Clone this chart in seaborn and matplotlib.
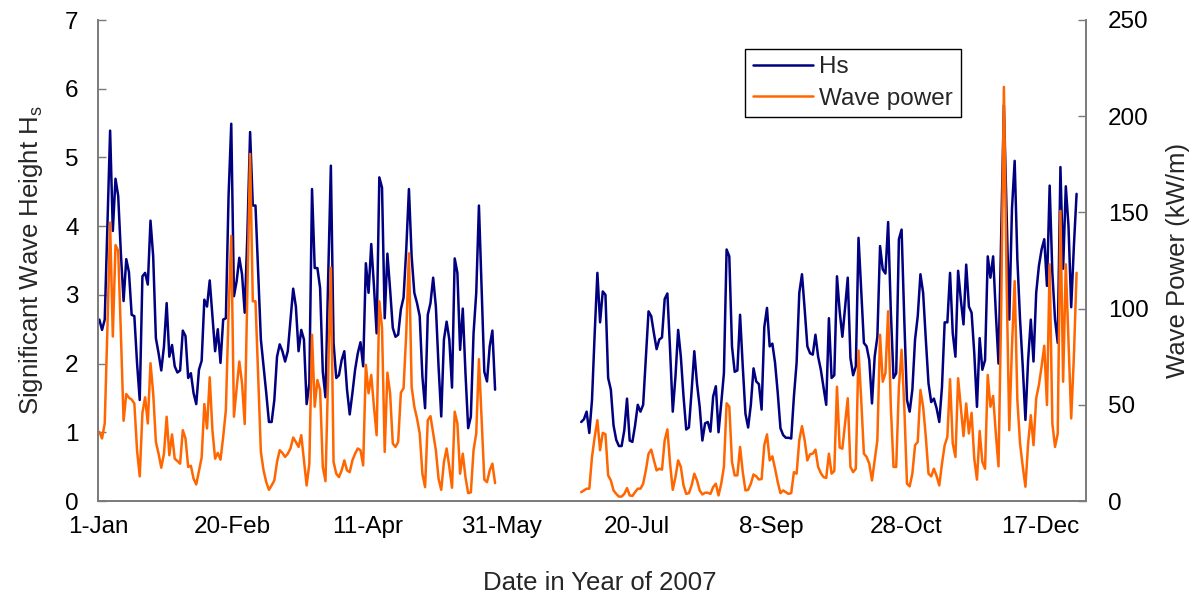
import numpy as np
import pandas as pd
import matplotlib
matplotlib.use('Agg')
import matplotlib.pyplot as plt
import seaborn as sns
from matplotlib.lines import Line2D

# Daily values. First block starts 1-Jan (day 0),
# second block starts day 179; nothing recorded in between.
start_1 = 0
hs_1 = [2.64, 2.49, 2.64, 4.0, 5.39, 3.93, 4.69, 4.44, 3.6, 2.91,
        3.52, 3.33, 2.71, 2.69, 2.01, 1.47, 3.27, 3.32, 3.15, 4.08,
        3.56, 2.37, 2.15, 1.90, 2.25, 2.88, 2.10, 2.27, 1.96, 1.87,
        1.90, 2.48, 2.40, 1.79, 1.86, 1.57, 1.41, 1.91, 2.04, 2.93,
        2.83, 3.21, 2.69, 2.18, 2.50, 2.01, 2.64, 2.66, 4.44, 5.49,
        2.98, 3.20, 3.54, 3.30, 2.74, 3.90, 5.37, 4.30, 4.30, 3.32,
        2.35, 1.96, 1.57, 1.15, 1.15, 1.47, 2.10, 2.28, 2.18, 2.03,
        2.18, 2.64, 3.09, 2.83, 2.18, 2.49, 2.35, 1.41, 1.71, 4.54,
        3.39, 3.39, 3.10, 1.88, 1.51, 3.25, 4.88, 2.30, 1.79, 1.83,
        2.05, 2.18, 1.62, 1.26, 1.57, 1.91, 2.15, 2.31, 1.96, 3.46,
        3.03, 3.74, 3.13, 2.44, 4.71, 4.56, 2.66, 3.60, 3.08, 2.52,
        2.39, 2.42, 2.79, 2.96, 3.66, 4.54, 3.56, 3.03, 2.88, 2.69,
        1.81, 1.35, 2.71, 2.88, 3.25, 2.83, 1.96, 1.23, 2.35, 2.61,
        2.35, 1.65, 3.53, 3.32, 2.20, 2.80, 1.86, 1.06, 1.23, 2.44,
        3.03, 4.30, 3.08, 1.88, 1.74, 2.25, 2.48, 1.62]
power_1 = [35.9, 32.5, 40.3, 90, 144.7, 85.5, 133, 130, 87, 41.7,
           55.6, 53.7, 52.7, 50.7, 26.4, 12.8, 45.8, 53.9, 40.3, 71.6,
           56, 30.7, 24.6, 17.3, 24.6, 43.8, 23.8, 34.6, 22, 20.8,
           19.4, 36.8, 32.5, 17.7, 18.3, 11.6, 8.6, 15.6, 22.6, 50.4,
           37.7, 64.3, 36.8, 22, 25, 21.5, 33.3, 47.3, 97.8, 137.8,
           43.8, 58.6, 72.5, 61.2, 40, 111.6, 180.4, 103.8, 103.8, 64.6,
           25.5, 15.9, 9.8, 5.8, 8.1, 10.7, 20.3, 26.4, 25, 22.9,
           24.6, 27.3, 33, 30.7, 28.1, 34.2, 21.1, 8.1, 19.4, 86.4,
           49, 62.9, 57.7, 17.7, 10.3, 66.4, 121.3, 20.3, 14.2, 12.4,
           15.9, 21.1, 15.9, 15, 21.1, 24.6, 27.3, 26.4, 18.5, 70.8,
           56, 65.5, 49, 34.2, 103.8, 90, 25.5, 66.7, 56, 29.9,
           28.1, 30.7, 56.3, 58.6, 87.3, 128.7, 59.4, 49, 42.9, 35.1,
           14.2, 7.2, 42, 44.1, 35.1, 26.4, 11.6, 5.8, 20.3, 27.3,
           17.7, 6.9, 46.4, 40.3, 14.2, 24.6, 12.4, 4.1, 4.5, 26.4,
           35.1, 73.7, 42, 11.1, 9.8, 15.9, 19.4, 9.3]

start_2 = 179
hs_2 = [1.15, 1.19, 1.30, 0.99, 1.47, 2.44, 3.32, 2.60, 3.05, 3.00,
        1.79, 1.62, 1.10, 0.89, 0.80, 0.80, 1.03, 1.49, 0.88, 0.86,
        1.10, 1.40, 1.30, 1.40, 2.08, 2.76, 2.69, 2.44, 2.21, 2.35,
        2.38, 2.94, 3.02, 2.20, 1.30, 1.81, 2.49, 2.10, 1.52, 1.04,
        1.07, 1.60, 2.18, 1.71, 1.37, 0.88, 1.13, 1.15, 1.01, 1.52,
        1.67, 1.00, 1.42, 1.86, 3.66, 3.56, 2.25, 1.88, 1.90, 2.71,
        1.96, 1.27, 1.07, 1.40, 1.93, 1.74, 1.70, 1.33, 2.53, 2.81,
        2.25, 2.29, 2.01, 1.57, 1.06, 0.96, 0.92, 0.92, 0.91, 1.52,
        2.01, 3.03, 3.30, 2.79, 2.25, 2.15, 2.13, 2.42, 2.10, 1.91,
        1.66, 1.40, 2.66, 1.79, 1.83, 3.27, 2.76, 2.39, 2.81, 3.25,
        2.08, 1.83, 1.96, 3.83, 3.08, 2.30, 2.25, 2.05, 1.42, 2.10,
        2.39, 3.71, 3.37, 3.31, 4.06, 2.76, 1.79, 1.86, 3.81, 3.95,
        2.64, 1.47, 1.30, 1.62, 2.35, 2.69, 3.30, 3.03, 2.35, 1.71,
        1.44, 1.49, 1.35, 1.15, 1.66, 2.60, 2.60, 3.32, 2.44, 2.10,
        3.35, 2.93, 2.57, 3.44, 2.83, 2.74, 2.15, 1.37, 2.37, 1.91,
        2.05, 3.56, 3.25, 3.56, 2.74, 2.00, 3.91, 5.76, 4.20, 2.64,
        4.25, 4.95, 3.52, 2.64, 1.96, 1.18, 2.05, 2.64, 2.03, 3.03,
        3.42, 3.66, 3.81, 3.13, 4.59, 3.32, 2.64, 2.30, 4.86, 3.38,
        4.58, 4.00, 2.82, 3.71, 4.47]
power_2 = [4.6, 5.5, 6.4, 6.4, 22.9, 33.3, 42, 26.4, 35.4, 34.7,
           13.3, 10.7, 5.5, 3.7, 2.3, 2.3, 3.7, 6.7, 2.9, 2.6,
           4.6, 6.4, 6.4, 9.0, 15.9, 24.6, 26.7, 21.1, 15.9, 16.8,
           16.3, 31.6, 37.2, 19.4, 5.8, 12.4, 21.1, 17.7, 8.1, 3.7,
           4.1, 8.1, 14.2, 10.7, 5.5, 3.4, 4.3, 4.3, 3.7, 7.2,
           9.0, 2.9, 9.0, 17.7, 50.8, 49, 20.3, 13.3, 13.3, 28.1,
           15.1, 5.5, 5.8, 9.0, 13.8, 12.8, 11.2, 11.4, 29, 34.6,
           21.1, 23.2, 16.8, 9.8, 4.1, 5.5, 4.6, 3.7, 4.1, 15,
           14.2, 31.6, 38.9, 31.6, 21.1, 24.3, 24.6, 26.7, 17.7, 14.5,
           12.4, 12.0, 24.6, 14.2, 15.6, 59.4, 27.8, 27.2, 40.3, 53.4,
           17.7, 15.0, 16.8, 78.2, 52.5, 24.6, 22.9, 19.4, 10.7, 21.1,
           31.6, 86.4, 62, 66.4, 98.6, 49, 17.7, 17.7, 59.4, 78.6,
           49, 9.0, 7.6, 14.2, 29, 30.7, 57.7, 49, 33.3, 14.2,
           12.8, 16.8, 13.0, 8.1, 19.4, 29, 33.3, 63.3, 29.9, 22.9,
           63.8, 49, 33.7, 50.7, 35.1, 45.8, 22, 11.1, 36.4, 20.3,
           16.8, 65.5, 49, 54.6, 35.1, 18, 100, 215.2, 115, 36.8,
           80.3, 114.3, 52.5, 29.9, 18, 7.4, 29.9, 44.6, 29, 53.4,
           60.3, 69.9, 80.7, 49.9, 123, 40.3, 28.1, 35, 150.8, 62,
           123, 83, 42.9, 75, 118.6]

tick_days = [0, 50, 100, 150, 200, 250, 300, 350]
tick_labels = ['1-Jan', '20-Feb', '11-Apr', '31-May', '20-Jul', '8-Sep', '28-Oct', '17-Dec']

HS_COLOR = '#000080'
POWER_COLOR = '#FF6600'
AXIS_COLOR = '#7a7a7a'


def make_block(start, hs, power, block):
    n = len(hs)
    # points sit in the middle of each day, as in the original chart
    return pd.DataFrame({'day': np.arange(start, start + n) + 0.5,
                         'hs': hs, 'power': power, 'block': block})


df = pd.concat([make_block(start_1, hs_1, power_1, 1),
                make_block(start_2, hs_2, power_2, 2)], ignore_index=True)

sns.set_style('white')
plt.rcParams['font.family'] = ['Liberation Sans', 'DejaVu Sans']
plt.rcParams['mathtext.default'] = 'regular'

fig = plt.figure(figsize=(11.94, 5.96), dpi=100)
ax = fig.add_axes([98 / 1194, 1 - 501 / 596, 988 / 1194, 481 / 596])

sns.lineplot(data=df, x='day', y='hs', units='block', estimator=None,
             color=HS_COLOR, lw=1.8, ax=ax, legend=False)
ax2 = ax.twinx()
sns.lineplot(data=df, x='day', y='power', units='block', estimator=None,
             color=POWER_COLOR, lw=1.8, ax=ax2, legend=False)

ax.set_xlim(0, 367)
ax.set_ylim(0, 7)
ax2.set_ylim(0, 250)
ax.set_xticks(tick_days)
ax.set_xticklabels(tick_labels)
ax.set_yticks(range(0, 8))
ax2.set_yticks(range(0, 251, 50))

ax.set_xlabel('Date in Year of 2007', fontsize=18.5, labelpad=20)
ax.xaxis.set_label_coords(0.508, -0.145)
ax.set_ylabel('Significant Wave Height H$_{s}$', fontsize=18.5, labelpad=14)
ax2.set_ylabel('Wave Power (kW/m)', fontsize=18.5, labelpad=12)

for a in (ax, ax2):
    a.tick_params(direction='in', length=6, width=1, color=AXIS_COLOR,
                  labelsize=17.5, labelcolor='black')
    for side in ('left', 'right', 'bottom'):
        a.spines[side].set_color(AXIS_COLOR)
        a.spines[side].set_linewidth(1.2)
    a.spines['top'].set_visible(False)
    a.grid(False)
ax.tick_params(axis='y', pad=14)
ax.tick_params(axis='x', pad=11)
ax2.tick_params(axis='y', pad=16)

handles = [Line2D([], [], color=HS_COLOR, lw=1.8),
           Line2D([], [], color=POWER_COLOR, lw=1.8)]
leg = ax2.legend(handles, ['Hs', 'Wave power'], loc='upper right',
                 bbox_to_anchor=(0.873, 0.94), fontsize=17.5, frameon=True,
                 fancybox=False, framealpha=1, edgecolor='black',
                 handlelength=2.5, handletextpad=0.25, borderpad=0.3,
                 labelspacing=0.4, borderaxespad=0)
leg.get_frame().set_linewidth(1.0)

fig.savefig('out.png', dpi=100)
